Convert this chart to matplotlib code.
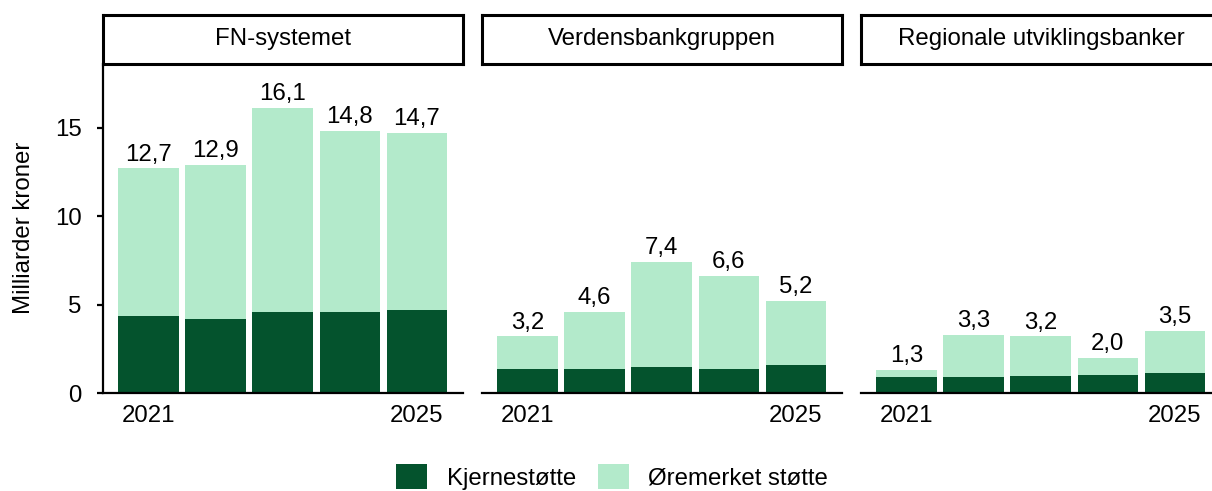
import matplotlib
matplotlib.use("Agg")
import matplotlib.pyplot as plt
from matplotlib.patches import Patch

plt.rcParams['font.family'] = ['Liberation Sans', 'DejaVu Sans']

years = [2021, 2022, 2023, 2024, 2025]
panels = ["FN-systemet", "Verdensbankgruppen", "Regionale utviklingsbanker"]
totals = {
    "FN-systemet": [12.7, 12.9, 16.1, 14.8, 14.7],
    "Verdensbankgruppen": [3.2, 4.6, 7.4, 6.6, 5.2],
    "Regionale utviklingsbanker": [1.3, 3.3, 3.2, 2.0, 3.5],
}
kjerne = {
    "FN-systemet": [4.35, 4.18, 4.58, 4.58, 4.69],
    "Verdensbankgruppen": [1.36, 1.36, 1.49, 1.36, 1.58],
    "Regionale utviklingsbanker": [0.90, 0.90, 0.96, 1.02, 1.13],
}
labels = ["12,7", "12,9", "16,1", "14,8", "14,7",
          "3,2", "4,6", "7,4", "6,6", "5,2",
          "1,3", "3,3", "3,2", "2,0", "3,5"]
series_names = ["Kjernestøtte", "Øremerket støtte"]
yticks = [0, 5, 10, 15]
xtick_years = [2021, 2025]

dark = "#04532D"
light = "#B3EACB"

W, H = 1212, 491
fig = plt.figure(figsize=(W / 100, H / 100), dpi=100)
FS = 17.3

lefts = [103, 482, 861]
pw = 360
ax_top, ax_bot = 64, 393
strip_top = 15

for i, name in enumerate(panels):
    l = lefts[i]
    ax = fig.add_axes([l / W, 1 - ax_bot / H, pw / W, (ax_bot - ax_top) / H])
    core = kjerne[name]
    tot = totals[name]
    ear = [t - c for t, c in zip(tot, core)]
    ax.bar(years, core, width=0.9, color=dark, linewidth=0)
    ax.bar(years, ear, bottom=core, width=0.9, color=light, linewidth=0)
    for j, (x, t) in enumerate(zip(years, tot)):
        ax.annotate(labels[i * 5 + j], (x, t), xytext=(0, 2), textcoords="offset points",
                    ha="center", va="bottom", fontsize=FS)
    ax.set_xlim(2020.32, 2025.69)
    ax.set_ylim(0, 18.6)
    ax.set_xticks(xtick_years)
    ax.set_xticklabels([str(y) for y in xtick_years])
    ax.tick_params(axis="x", length=0, pad=8.5, labelsize=FS)
    for s in ["top", "right"]:
        ax.spines[s].set_visible(False)
    ax.spines["bottom"].set_linewidth(1.6)
    if i == 0:
        ax.set_yticks(yticks)
        ax.tick_params(axis="y", length=4.5, width=1.6, pad=11, labelsize=FS)
        ax.spines["left"].set_linewidth(1.6)
    else:
        ax.spines["left"].set_visible(False)
        ax.set_yticks([])
    # strip
    sax = fig.add_axes([l / W, 1 - ax_top / H, pw / W, (ax_top - strip_top) / H])
    sax.set_xticks([])
    sax.set_yticks([])
    for s in sax.spines.values():
        s.set_linewidth(2.2)
    sax.text(0.5, 0.5, name, ha="center", va="center", fontsize=FS, transform=sax.transAxes)

fig.text(24 / W, 1 - 228 / H, "Milliarder kroner", rotation=90, ha="center", va="center", fontsize=FS)

handles = [Patch(facecolor=dark, edgecolor="none"), Patch(facecolor=light, edgecolor="none")]
fig.legend(handles, series_names, loc="center", bbox_to_anchor=(612 / W, 1 - 477 / H),
           ncol=2, frameon=False, fontsize=FS, handlelength=1.3, handleheight=1.2,
           handletextpad=0.8, columnspacing=0.9)

fig.savefig("out.png", dpi=100)
